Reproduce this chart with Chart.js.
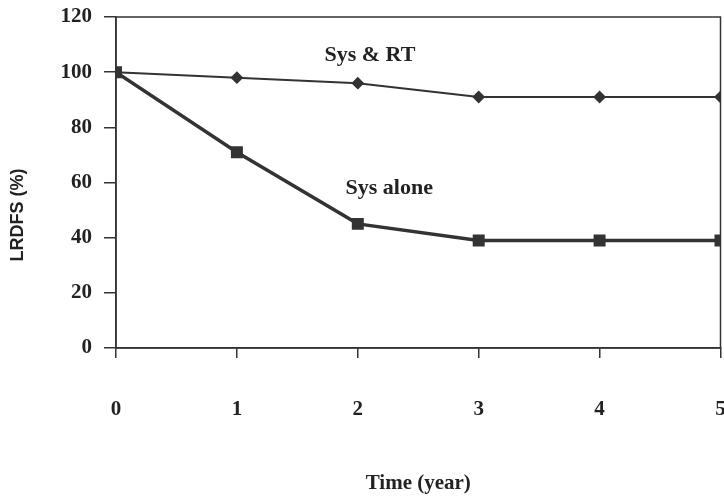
<!DOCTYPE html>
<html>
<head>
<meta charset="utf-8">
<script src="https://cdn.jsdelivr.net/npm/chart.js@4"></script>
<style>
    html, body { margin: 0; padding: 0; background: #fff; overflow: hidden; }
    #wrap { width: 730px; height: 501px; }
</style>
</head>
<body>
<div id="wrap"><canvas id="chart"></canvas></div>
<script>
const years = [0, 1, 2, 3, 4, 5];
const sysRT = [100, 98, 96, 91, 91, 91];
const sysAlone = [100, 71, 45, 39, 39, 39];
const yTicks = [0, 20, 40, 60, 80, 100, 120];

const ink = '#333';
const serif = '"Liberation Serif", "Times New Roman", serif';

// box round the plot area (top and right edges)
const frame = {
    id: 'frame',
    beforeDatasetsDraw(chart) {
        const a = chart.chartArea;
        const ctx = chart.ctx;
        ctx.save();
        ctx.strokeStyle = ink;
        ctx.lineWidth = 1.5;
        ctx.strokeRect(a.left, a.top, a.right - a.left, a.bottom - a.top);
        ctx.restore();
    }
};

// series labels inside the plot, and the y title set a bit low like the original
const labels = {
    id: 'labels',
    afterDatasetsDraw(chart) {
        const xs = chart.scales.x, ys = chart.scales.y;
        const ctx = chart.ctx;
        ctx.save();
        ctx.fillStyle = '#222';
        ctx.font = 'bold 22px ' + serif;
        ctx.textAlign = 'center';
        ctx.textBaseline = 'middle';
        ctx.fillText('Sys & RT', xs.getPixelForValue(2.1), ys.getPixelForValue(106));
        ctx.fillText('Sys alone', xs.getPixelForValue(2.26), ys.getPixelForValue(58));

        ctx.translate(18, 215);
        ctx.rotate(-Math.PI / 2);
        ctx.font = 'bold 18px "Liberation Sans", Arial, sans-serif';
        ctx.fillText('LRDFS (%)', 0, 0);
        ctx.restore();
    }
};

const pts = (vals) => years.map((x, i) => ({ x: x, y: vals[i] }));

new Chart(document.getElementById('chart'), {
    type: 'line',
    data: {
        datasets: [{
            label: 'Sys & RT',
            data: pts(sysRT),
            borderColor: ink,
            backgroundColor: ink,
            borderWidth: 2,
            pointStyle: 'rectRot',
            pointRadius: 5,
            tension: 0
        }, {
            label: 'Sys alone',
            data: pts(sysAlone),
            borderColor: ink,
            backgroundColor: ink,
            borderWidth: 3.5,
            pointStyle: 'rect',
            pointRadius: 6,
            tension: 0
        }]
    },
    options: {
        responsive: true,
        maintainAspectRatio: false,
        animation: false,
        layout: { padding: { top: 17, left: 0, right: 3, bottom: 0 } },
        plugins: {
            legend: { display: false },
            tooltip: { enabled: false }
        },
        scales: {
            x: {
                type: 'linear',
                min: 0,
                max: 5,
                afterFit: (s) => {
                    s.height = 153;
                    s.paddingLeft = 0;
                    s.paddingRight = 0;
                },
                ticks: {
                    stepSize: 1,
                    padding: 39,
                    color: '#222',
                    font: { family: serif, size: 21, weight: 'bold' }
                },
                grid: { drawOnChartArea: false, tickLength: 10, color: ink, lineWidth: 1.5 },
                border: { color: ink, width: 1.5 },
                title: {
                    display: true,
                    text: 'Time (year)',
                    color: '#222',
                    font: { family: serif, size: 21, weight: 'bold' },
                    padding: { top: 0, bottom: 5 }
                }
            },
            y: {
                min: 0,
                max: 120,
                afterFit: (s) => {
                    s.width = 116;
                    s.paddingTop = 0;
                    s.paddingBottom = 0;
                },
                afterBuildTicks: (s) => { s.ticks = yTicks.map(v => ({ value: v })); },
                ticks: {
                    padding: 12,
                    color: '#222',
                    font: { family: serif, size: 21, weight: 'bold' }
                },
                grid: { drawOnChartArea: false, tickLength: 12, color: ink, lineWidth: 1.5 },
                border: { color: ink, width: 1.5 }
            }
        }
    },
    plugins: [frame, labels]
});
</script>
</body>
</html>
